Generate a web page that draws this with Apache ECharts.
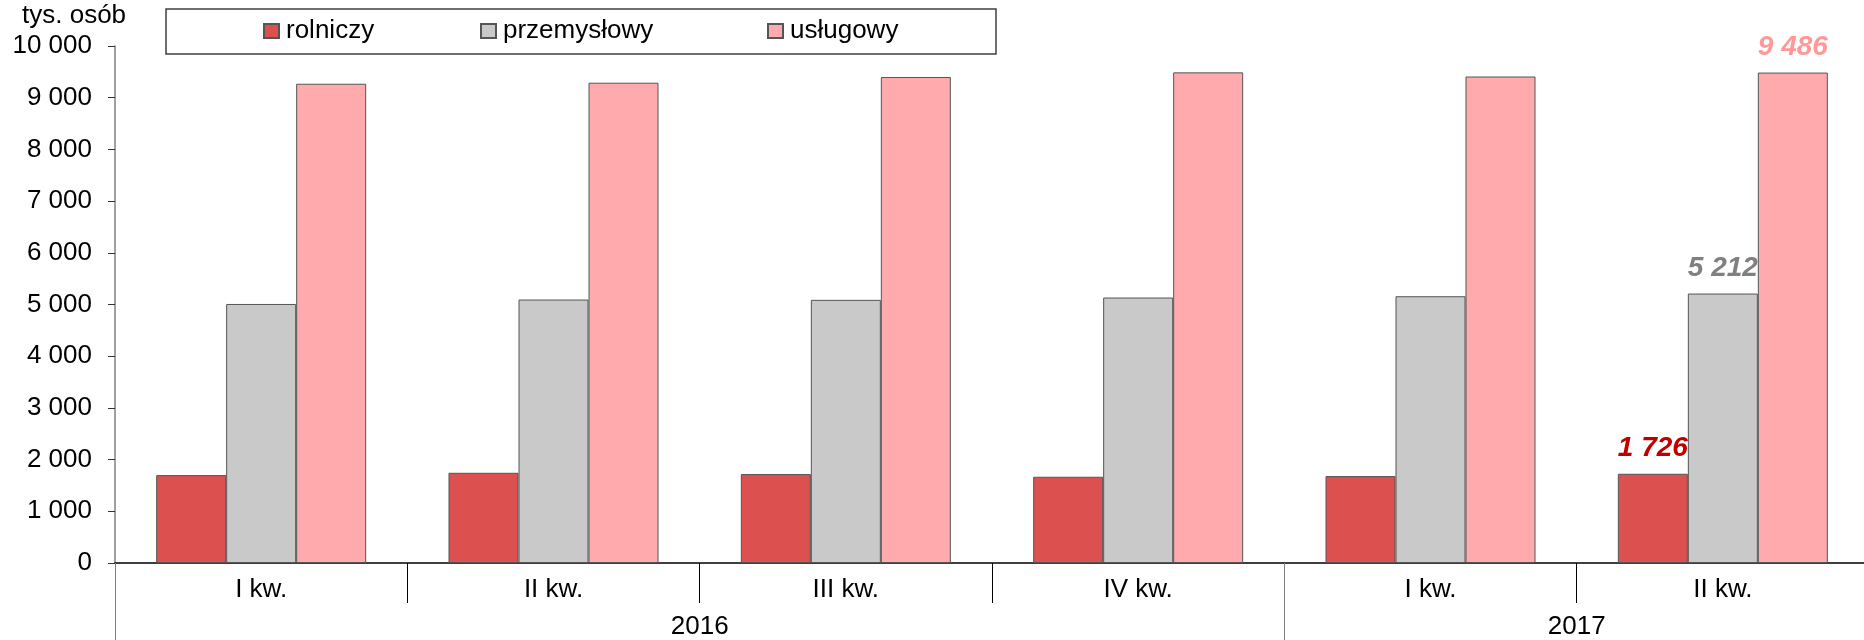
<!DOCTYPE html>
<html>
<head>
<meta charset="utf-8">
<script src="https://cdn.jsdelivr.net/npm/echarts@6/dist/echarts.min.js"></script>
<style>
  html, body { margin: 0; padding: 0; background: #fff; overflow: hidden; }
  /* wider than the window: the last category runs past the right edge */
  #chart { width: 1880px; height: 640px; }
</style>
</head>
<body>
<div id="chart"></div>
<script>
// dane
const quarters = ['I kw.', 'II kw.', 'III kw.', 'IV kw.', 'I kw.', 'II kw.']
const years = ['', '', '2016', '', '', '2017', '']
const rolniczy = [1700, 1745, 1720, 1668, 1681, 1726]
const przemyslowy = [5010, 5096, 5090, 5135, 5160, 5212]
const uslugowy = [9270, 9290, 9400, 9490, 9410, 9486]
const seriesNames = ['rolniczy', 'przemysłowy', 'usługowy']

const FONT = "'Liberation Sans', Arial, sans-serif"

// 10000 -> "10 000"
function fmt (v) {
  return String(v).replace(/\B(?=(\d{3})+(?!\d))/g, ' ')
}

function barSeries (name, data, color, labelColor) {
  const last = data.length - 1
  return {
    name: name,
    type: 'bar',
    xAxisIndex: 0,
    data: data,
    barWidth: 70,
    barGap: '0%',
    itemStyle: {
      color: color,
      borderColor: '#555555',
      borderWidth: 1
    },
    label: {
      show: true,
      position: 'top',
      distance: 11,
      color: labelColor,
      fontFamily: FONT,
      fontSize: 28,
      fontWeight: 'bold',
      fontStyle: 'italic',
      formatter: p => (p.dataIndex === last ? fmt(p.value) : '')
    }
  }
}

function legendAt (name, left) {
  return {
    data: [name],
    left: left,
    top: 18,
    padding: 0,
    icon: 'rect',
    itemWidth: 15,
    itemHeight: 14,
    textStyle: { fontFamily: FONT, fontSize: 26, color: '#000', padding: [0, 0, 0, 2] }
  }
}

const chart = echarts.init(document.getElementById('chart'))
chart.setOption({
  animation: false,
  backgroundColor: '#fff',
  textStyle: { fontFamily: FONT },
  title: {
    text: 'tys. osób',
    left: 22,
    top: 3,
    padding: 0,
    textStyle: { fontFamily: FONT, fontSize: 26, fontWeight: 'normal', color: '#000' }
  },
  graphic: [{
    type: 'rect',
    shape: { x: 166, y: 9, width: 830, height: 45 },
    style: { fill: '#fff', stroke: '#404040', lineWidth: 1.5 },
    z: 0
  }],
  legend: [
    legendAt('rolniczy', 263),
    legendAt('przemysłowy', 480),
    legendAt('usługowy', 767)
  ],
  grid: {
    left: 115,
    right: 11,
    top: 46,
    bottom: 77,
    containLabel: false
  },
  xAxis: [
    {
      type: 'category',
      position: 'bottom',
      data: quarters,
      axisLine: { lineStyle: { color: '#000', width: 1.5 } },
      axisTick: { show: true, interval: 0, length: 40, lineStyle: { color: '#000', width: 1 } },
      axisLabel: { interval: 0, margin: 14, color: '#000', fontFamily: FONT, fontSize: 26 }
    },
    {
      type: 'category',
      position: 'bottom',
      boundaryGap: false,
      data: years,
      axisLine: { show: false },
      axisTick: {
        show: true,
        length: 77,
        interval: (i) => i === 0 || i === 4,
        lineStyle: { color: '#808080', width: 1 }
      },
      axisLabel: { interval: 0, margin: 51, color: '#000', fontFamily: FONT, fontSize: 26 }
    }
  ],
  yAxis: {
    type: 'value',
    min: 0,
    max: 10000,
    interval: 1000,
    splitLine: { show: false },
    axisLine: { show: true, lineStyle: { color: '#808080', width: 1.5 } },
    axisTick: { show: true, length: 7, lineStyle: { color: '#333', width: 1 } },
    axisLabel: { margin: 23, color: '#000', fontFamily: FONT, fontSize: 26, formatter: v => fmt(v) }
  },
  series: [
    barSeries(seriesNames[0], rolniczy, '#DC5050', '#C00000'),
    barSeries(seriesNames[1], przemyslowy, '#C9C9C9', '#808080'),
    barSeries(seriesNames[2], uslugowy, '#FFABAE', '#FF9999')
  ]
})
</script>
</body>
</html>
